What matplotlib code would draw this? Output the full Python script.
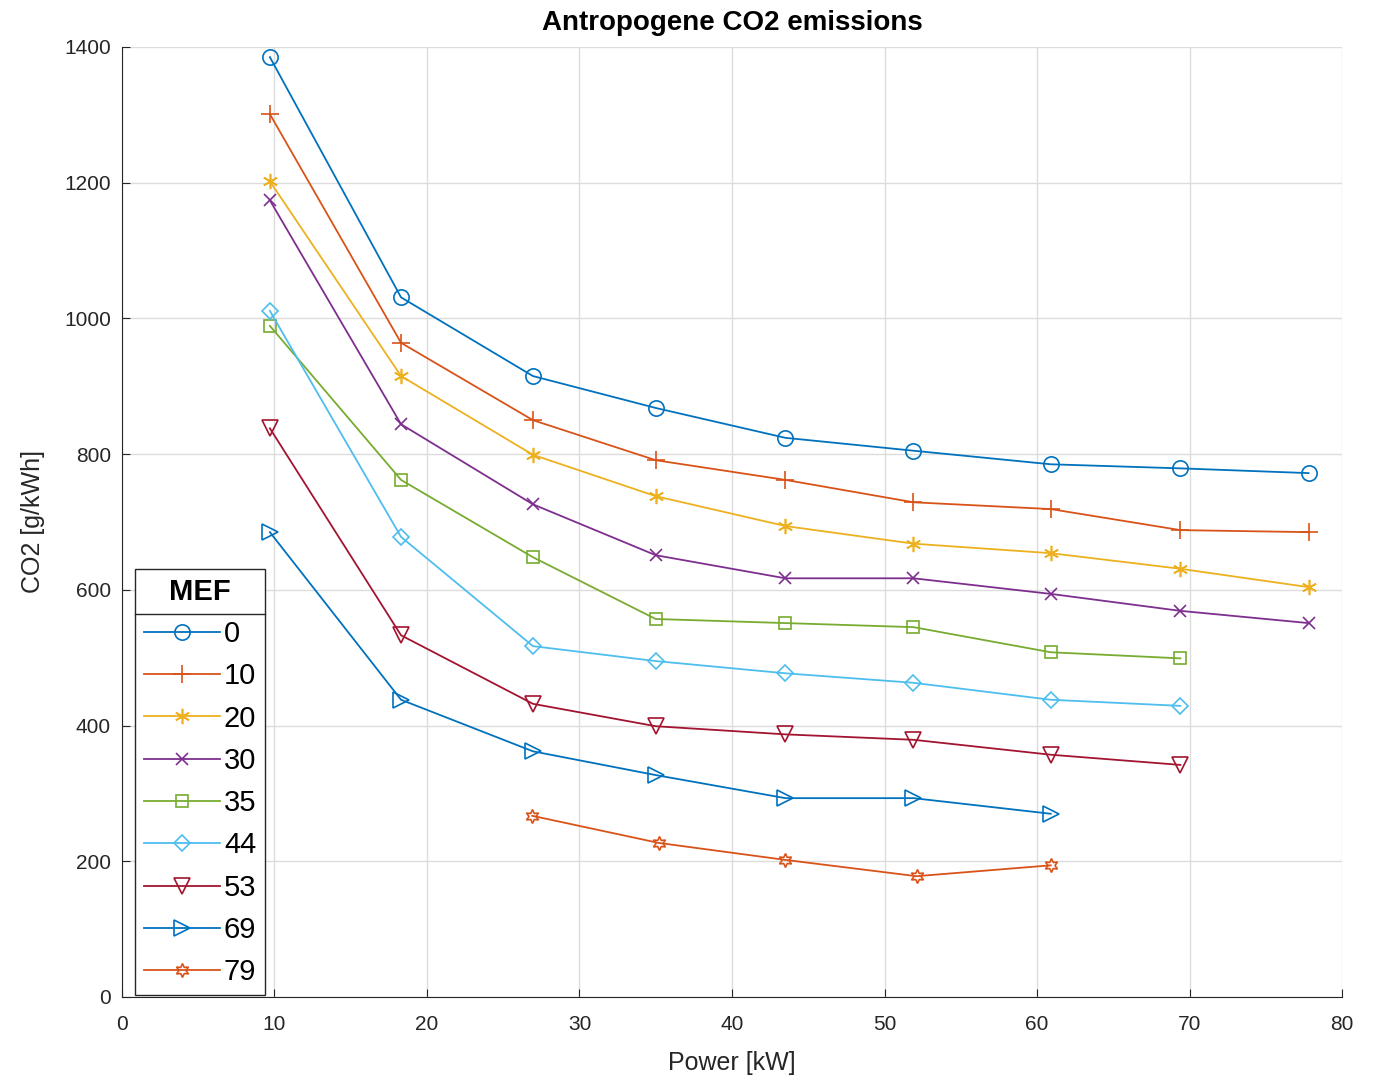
import matplotlib
matplotlib.use('Agg')
import matplotlib.pyplot as plt
from matplotlib.lines import Line2D

plt.rcParams['font.family'] = ['Liberation Sans', 'DejaVu Sans']

# values
mef = ['0', '10', '20', '30', '35', '44', '53', '69', '79']

x_full = [9.7, 18.3, 26.95, 35.0, 43.5, 51.9, 60.9, 69.4, 77.8]

y_0 = [1385, 1031, 915, 868, 824, 805, 785, 779, 772]
y_10 = [1301, 964, 850, 791, 762, 729, 719, 688, 685]
y_20 = [1202, 915, 799, 738, 694, 668, 654, 631, 604]
y_30 = [1174, 844, 726, 651, 617, 617, 594, 569, 551]
y_35 = [989, 762, 648, 557, 551, 545, 508, 499]
y_44 = [1011, 678, 517, 495, 477, 463, 438, 429]
y_53 = [838, 533, 432, 399, 387, 379, 357, 342]
y_69 = [685, 438, 362, 327, 293, 293, 270]
y_79 = [267, 227, 202, 178, 194]
x_79 = [26.9, 35.2, 43.5, 52.1, 60.9]

series = [y_0, y_10, y_20, y_30, y_35, y_44, y_53, y_69, y_79]
colors = ['#0072BD', '#D95319', '#EDB120', '#7E2F8E', '#77AC30',
          '#4DBEEE', '#A2142F', '#0072BD', '#D95319']
markers = ['o', '+', (6, 2, 0), 'x', 's', 'D', 'v', '>', (6, 1, 0)]
msizes = [11, 13, 11, 8, 8, 8, 11, 12, 10]

fig = plt.figure(figsize=(13.81, 10.77), dpi=100)
ax = fig.add_axes([0.0883, 0.0743, 0.8835, 0.8821])

for i, ys in enumerate(series):
    if i == 8:
        xs = x_79
    else:
        xs = x_full[:len(ys)]
    ax.plot(xs, ys, color=colors[i], marker=markers[i], markersize=msizes[i],
            mfc='none', mec=colors[i], mew=1.2, lw=1.3, label=mef[i])

ax.set_xlim(0, 80)
ax.set_ylim(0, 1400)
ax.set_xticks(range(0, 81, 10))
ax.set_yticks(range(0, 1401, 200))
ax.grid(True, color='#dcdcdc', lw=1)
ax.set_axisbelow(True)
for s in ['top', 'right']:
    ax.spines[s].set_visible(False)
for s in ['left', 'bottom']:
    ax.spines[s].set_color('#262626')
ax.tick_params(direction='in', length=6, labelsize=15, colors='#262626', pad=8)
ax.tick_params(axis='x', pad=13)

ax.set_title('Antropogene CO2 emissions', fontsize=20, fontweight='bold', pad=12)
ax.set_xlabel('Power [kW]', fontsize=18, color='#262626', labelpad=12)
ax.set_ylabel('CO2 [g/kWh]', fontsize=18, color='#262626', labelpad=14)

leg = ax.legend(loc='lower left', bbox_to_anchor=(0.0107, 0.002), borderaxespad=0,
                fontsize=21, title='MEF', title_fontproperties={'size': 21, 'weight': 'bold'},
                handlelength=2.6, handletextpad=0.15, labelspacing=0.49,
                fancybox=False, framealpha=1, edgecolor='#262626', borderpad=0.3)
leg.get_frame().set_linewidth(1.0)

# separator line under the legend title
fig.canvas.draw()
r = fig.canvas.get_renderer()
lb = leg.get_window_extent(r)
tb = leg.get_title().get_window_extent(r)
ysep = tb.y0 - 8
inv = fig.transFigure.inverted()
p0 = inv.transform((lb.x0, ysep))
p1 = inv.transform((lb.x1, ysep))
fig.add_artist(Line2D([p0[0], p1[0]], [p0[1], p1[1]], color='#262626', lw=1.0))

fig.savefig('out.png', dpi=100)
